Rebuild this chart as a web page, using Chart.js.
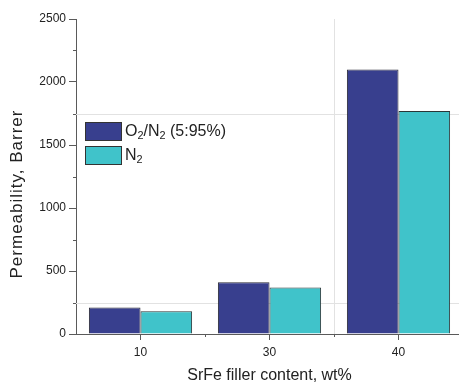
<!DOCTYPE html>
<html>
<head>
<meta charset="utf-8">
<script src="https://cdn.jsdelivr.net/npm/chart.js@4/dist/chart.umd.min.js"></script>
<style>
  html, body { margin: 0; padding: 0; background: #fff; overflow: hidden; width: 459px; height: 385px; }
  canvas { display: block; }
</style>
</head>
<body>
<canvas id="permChart" width="466" height="385"></canvas>
<script>
// filler loading (wt%) and measured permeabilities (Barrer)
const fillerContent = ['10', '30', '40'];
const o2n2Perm = [210, 410, 2100];
const n2Perm = [180, 370, 1770];
// series labels, "_2" marks a subscript
const seriesLabels = ['O_2/N_2 (5:95%)', 'N_2'];
const yMax = 2500;
const yStep = 500;
// faint reference lines left on the plot
const guideValues = [250, 1750];

const FONT = '"Liberation Sans", Arial, Helvetica, sans-serif';
const AXIS = '#5a5a5a';
const TEXT = '#222';

// draws text where "_x" renders x as a subscript
function drawRich(ctx, text, x, y, size) {
    const parts = text.split(/(_\d)/);
    let cx = x;
    parts.forEach(function (p) {
        if (!p) return;
        if (p[0] === '_') {
            ctx.font = (size * 0.68) + 'px ' + FONT;
            ctx.fillText(p.slice(1), cx, y + size * 0.28);
            cx += ctx.measureText(p.slice(1)).width;
        } else {
            ctx.font = size + 'px ' + FONT;
            ctx.fillText(p, cx, y);
            cx += ctx.measureText(p).width;
        }
    });
}

const extras = {
    id: 'extras',
    beforeDatasetsDraw(chart) {
        const {ctx, chartArea, scales} = chart;
        ctx.save();
        ctx.strokeStyle = '#e2e2e2';
        ctx.lineWidth = 1;
        guideValues.forEach(function (v) {
            const y = Math.round(scales.y.getPixelForValue(v)) + 0.5;
            ctx.beginPath();
            ctx.moveTo(chartArea.left, y);
            ctx.lineTo(chartArea.right, y);
            ctx.stroke();
        });
        const xb = Math.round((scales.x.getPixelForValue(1) + scales.x.getPixelForValue(2)) / 2) + 0.5;
        ctx.beginPath();
        ctx.moveTo(xb, chartArea.top);
        ctx.lineTo(xb, chartArea.bottom);
        ctx.stroke();
        ctx.restore();
    },
    afterDraw(chart) {
        const {ctx, chartArea, scales} = chart;
        ctx.save();
        ctx.strokeStyle = AXIS;
        ctx.lineWidth = 1;
        // minor ticks on y
        for (let v = yStep / 2; v < yMax; v += yStep) {
            const y = Math.round(scales.y.getPixelForValue(v)) + 0.5;
            ctx.beginPath();
            ctx.moveTo(chartArea.left - 3, y);
            ctx.lineTo(chartArea.left, y);
            ctx.stroke();
        }
        // minor ticks on x between categories
        for (let i = 0; i < fillerContent.length - 1; i++) {
            const x = Math.round((scales.x.getPixelForValue(i) + scales.x.getPixelForValue(i + 1)) / 2) + 0.5;
            ctx.beginPath();
            ctx.moveTo(x, chartArea.bottom);
            ctx.lineTo(x, chartArea.bottom + 3);
            ctx.stroke();
        }
        // y axis title
        ctx.save();
        ctx.translate(17, 194);
        ctx.rotate(-Math.PI / 2);
        ctx.font = '17px ' + FONT;
        ctx.letterSpacing = '1px';
        ctx.fillStyle = TEXT;
        ctx.textAlign = 'center';
        ctx.textBaseline = 'middle';
        ctx.fillText('Permeability, Barrer', 0, 0);
        ctx.restore();
        // legend
        const lx = 85, ly = 122, bw = 36, bh = 18, gap = 6;
        chart.data.datasets.forEach(function (ds, i) {
            const y0 = ly + i * (bh + gap);
            ctx.fillStyle = ds.backgroundColor;
            ctx.fillRect(lx + 0.5, y0 + 0.5, bw, bh);
            ctx.strokeStyle = '#333';
            ctx.strokeRect(lx + 0.5, y0 + 0.5, bw, bh);
            ctx.fillStyle = TEXT;
            ctx.textBaseline = 'middle';
            drawRich(ctx, seriesLabels[i], lx + bw + 4, y0 + bh / 2 + 1, 16);
        });
        ctx.restore();
    }
};

new Chart(document.getElementById('permChart'), {
    type: 'bar',
    data: {
        labels: fillerContent,
        datasets: [{
            label: 'O2/N2 (5:95%)',
            data: o2n2Perm,
            backgroundColor: '#383f8e',
            borderColor: '#2a2a36',
            borderWidth: 1,
            categoryPercentage: 0.8,
            barPercentage: 1
        }, {
            label: 'N2',
            data: n2Perm,
            backgroundColor: '#40c3ca',
            borderColor: '#2a3638',
            borderWidth: 1,
            categoryPercentage: 0.8,
            barPercentage: 1
        }]
    },
    options: {
        responsive: false,
        animation: false,
        layout: { padding: { top: 19, right: 3, left: 0, bottom: 0 } },
        plugins: {
            legend: { display: false },
            tooltip: { enabled: false }
        },
        scales: {
            x: {
                type: 'category',
                offset: true,
                grid: { offset: false, drawOnChartArea: false, tickLength: 6, color: AXIS },
                border: { color: AXIS, width: 1 },
                ticks: { color: TEXT, padding: 5, font: { family: FONT, size: 12 } },
                title: {
                    display: true,
                    text: 'SrFe filler content, wt%',
                    color: TEXT,
                    font: { family: FONT, size: 16 },
                    padding: { top: 0, bottom: 0 }
                },
                afterFit: function (scale) { scale.height = 51; }
            },
            y: {
                min: 0,
                max: yMax,
                ticks: {
                    stepSize: yStep,
                    color: TEXT,
                    padding: 3,
                    font: { family: FONT, size: 12 },
                    callback: function (v) { return String(v); }
                },
                grid: { drawOnChartArea: false, tickLength: 7, color: AXIS },
                border: { color: AXIS, width: 1 },
                afterFit: function (scale) { scale.width = 76; }
            }
        }
    },
    plugins: [extras]
});
</script>
</body>
</html>
